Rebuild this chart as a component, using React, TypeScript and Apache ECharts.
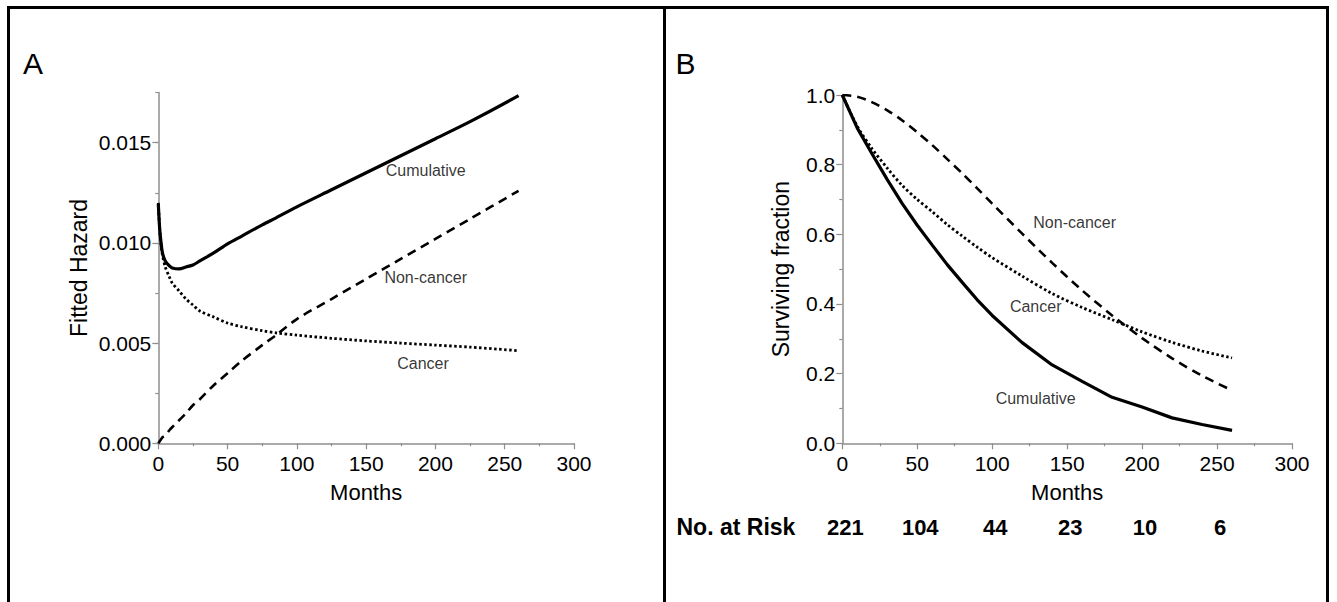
import React, { useEffect, useRef } from 'react';
import * as echarts from 'echarts';

// ---------- Panel A: fitted hazard ----------
const monthsA = [0, 1, 2, 3, 5, 8, 10, 15, 20, 25, 30, 40, 50, 60, 75, 85, 100, 125, 150, 175, 200, 225, 260];
const cumulativeA = [0.01195, 0.0107, 0.0100, 0.0095, 0.0091, 0.00885, 0.00875, 0.0087, 0.0088, 0.0089, 0.0091, 0.0095, 0.00995, 0.01033, 0.0109, 0.01125, 0.0118, 0.01265, 0.0135, 0.01435, 0.0152, 0.01605, 0.01735];
const cancerA = [0.0120, 0.0107, 0.0099, 0.0094, 0.0088, 0.0083, 0.0080, 0.0076, 0.0072, 0.0069, 0.0066, 0.0063, 0.0060, 0.00582, 0.00562, 0.00551, 0.0054, 0.00524, 0.00511, 0.0050, 0.0049, 0.0048, 0.00462];
const nonCancerA = [0, 0.0001, 0.0002, 0.0003, 0.0004, 0.00065, 0.0008, 0.00115, 0.0015, 0.0019, 0.0022, 0.0029, 0.0035, 0.0041, 0.0049, 0.0054, 0.0062, 0.0072, 0.0082, 0.0092, 0.0102, 0.0112, 0.0126];
const hazardMajorTicks = [0, 0.005, 0.01, 0.015];
const curveLabelsA: [number, number, string][] = [
  [193, 0.01362, 'Cumulative'],
  [193, 0.00827, 'Non-cancer'],
  [191, 0.00396, 'Cancer'],
];

// ---------- Panel B: surviving fraction ----------
const monthsB = [0, 10, 20, 30, 40, 50, 60, 70, 80, 90, 100, 120, 140, 160, 180, 200, 220, 240, 260];
const cumulativeB = [1.0, 0.905, 0.83, 0.757, 0.688, 0.626, 0.569, 0.513, 0.462, 0.412, 0.367, 0.289, 0.225, 0.178, 0.132, 0.104, 0.073, 0.054, 0.037];
const cancerB = [1.0, 0.91, 0.845, 0.79, 0.74, 0.70, 0.665, 0.628, 0.595, 0.563, 0.533, 0.48, 0.43, 0.39, 0.355, 0.32, 0.29, 0.265, 0.245];
const nonCancerB = [1.0, 0.995, 0.979, 0.956, 0.927, 0.893, 0.856, 0.816, 0.775, 0.732, 0.688, 0.602, 0.518, 0.439, 0.367, 0.302, 0.244, 0.194, 0.152];
const curveLabelsB: [number, number, string][] = [
  [155, 0.633, 'Non-cancer'],
  [129, 0.394, 'Cancer'],
  [129, 0.13, 'Cumulative'],
];

// ---------- Number at risk ----------
const riskMonths = [0, 50, 100, 150, 200, 250];
const riskCounts = [221, 104, 44, 23, 10, 6];

const SANS = "'Liberation Sans', Arial, Helvetica, sans-serif";
const AXIS_GRAY = '#8e8e8e';

const zip = (xs: number[], ys: number[]) => xs.map((x, i) => [x, ys[i]]);

export default function App() {
  const ref = useRef<HTMLDivElement>(null);

  useEffect(() => {
    const chart = echarts.init(ref.current!, null, { renderer: 'svg' });

    const tickFont = { fontFamily: SANS, fontSize: 21, color: '#000' };

    const xAxisCommon = (gridIndex: number) => ({
      type: 'value',
      gridIndex,
      min: 0,
      max: 300,
      interval: 50,
      name: 'Months',
      nameLocation: 'middle',
      nameGap: 38,
      nameTextStyle: { fontFamily: SANS, fontSize: 22, color: '#000' },
      axisLine: { show: true, onZero: false, lineStyle: { color: AXIS_GRAY, width: 1.5 } },
      axisTick: { show: true, length: 6, lineStyle: { color: AXIS_GRAY, width: 1.2 } },
      minorTick: { show: true, splitNumber: 2, length: 3, lineStyle: { color: AXIS_GRAY, width: 1.2 } },
      splitLine: { show: false },
      minorSplitLine: { show: false },
      axisLabel: { margin: 10, ...tickFont },
    });

    const lineSeries = (
      xi: number,
      yi: number,
      data: number[][],
      kind: 'solid' | 'dashed' | 'dotted',
      smooth: number | boolean,
    ) => ({
      type: 'line',
      xAxisIndex: xi,
      yAxisIndex: yi,
      data,
      showSymbol: false,
      symbol: 'none',
      smooth,
      silent: true,
      lineStyle: {
        color: '#000',
        width: kind === 'solid' ? 3.2 : kind === 'dashed' ? 2.6 : 2.8,
        type: kind === 'solid' ? 'solid' : kind === 'dashed' ? [9, 6] : [2.5, 2.5],
        cap: 'butt',
      },
      z: 3,
    });

    const labelSeries = (xi: number, yi: number, items: [number, number, string][]) => ({
      type: 'scatter',
      xAxisIndex: xi,
      yAxisIndex: yi,
      symbolSize: 0,
      silent: true,
      data: items.map((d) => [d[0], d[1], d[2]]),
      label: {
        show: true,
        position: 'inside',
        formatter: (p: any) => p.data[2],
        fontFamily: SANS,
        fontSize: 16,
        color: '#000',
      },
      z: 4,
    });

    chart.setOption({
      animation: false,
      backgroundColor: '#fff',
      grid: [
        { left: 158.3, top: 92.6, width: 415.7, height: 350.7 },
        { left: 842.3, top: 95, width: 449.7, height: 348.3 },
      ],
      xAxis: [xAxisCommon(0), xAxisCommon(1)],
      yAxis: [
        {
          type: 'value',
          gridIndex: 0,
          position: 'left',
          min: 0,
          max: 0.0175,
          interval: 0.0025,
          name: 'Fitted Hazard',
          nameLocation: 'middle',
          nameGap: 68,
          nameRotate: 90,
          nameTextStyle: { fontFamily: SANS, fontSize: 23, color: '#000' },
          axisLine: { show: true, onZero: false, lineStyle: { color: AXIS_GRAY, width: 1.5 } },
          axisTick: { show: true, length: 3, lineStyle: { color: AXIS_GRAY, width: 1.2 } },
          splitLine: { show: false },
          axisLabel: {
            margin: 7,
            ...tickFont,
            formatter: (v: number) => {
              const k = v / 0.005;
              return Math.abs(k - Math.round(k)) < 1e-6 ? v.toFixed(3) : '';
            },
          },
        },
        {
          type: 'value',
          gridIndex: 0,
          position: 'left',
          min: 0,
          max: 0.0175,
          interval: 0.005,
          axisLine: { show: false },
          axisLabel: { show: false },
          splitLine: { show: false },
          axisTick: { show: true, length: 6, customValues: hazardMajorTicks, lineStyle: { color: AXIS_GRAY, width: 1.2 } },
        },
        {
          type: 'value',
          gridIndex: 1,
          position: 'left',
          min: 0,
          max: 1,
          interval: 0.2,
          name: 'Surviving fraction',
          nameLocation: 'middle',
          nameGap: 50,
          nameRotate: 90,
          nameTextStyle: { fontFamily: SANS, fontSize: 23, color: '#000' },
          axisLine: { show: true, onZero: false, lineStyle: { color: AXIS_GRAY, width: 1.5 } },
          axisTick: { show: true, length: 6, lineStyle: { color: AXIS_GRAY, width: 1.2 } },
          minorTick: { show: true, splitNumber: 2, length: 3, lineStyle: { color: AXIS_GRAY, width: 1.2 } },
          splitLine: { show: false },
          minorSplitLine: { show: false },
          axisLabel: {
            margin: 7,
            ...tickFont,
            formatter: (v: number) => v.toFixed(1),
          },
        },
      ],
      series: [
        lineSeries(0, 0, zip(monthsA, cumulativeA), 'solid', 0.3),
        lineSeries(0, 0, zip(monthsA, nonCancerA), 'dashed', 0.3),
        lineSeries(0, 0, zip(monthsA, cancerA), 'dotted', 0.3),
        labelSeries(0, 0, curveLabelsA),
        lineSeries(1, 2, zip(monthsB, cumulativeB), 'solid', false),
        lineSeries(1, 2, zip(monthsB, nonCancerB), 'dashed', 0.3),
        lineSeries(1, 2, zip(monthsB, cancerB), 'dotted', 0.3),
        labelSeries(1, 2, curveLabelsB),
      ],
    });

    const riskTexts = riskMonths.map((m, i) => {
      const px = chart.convertToPixel({ xAxisIndex: 1 }, m) as number;
      return {
        type: 'text',
        x: px + 3,
        y: 527,
        style: {
          text: String(riskCounts[i]),
          fontFamily: SANS,
          fontWeight: 'bold',
          fontSize: 22,
          fill: '#000',
          align: 'center',
          verticalAlign: 'middle',
        },
      };
    });

    chart.setOption({
      graphic: [
        {
          type: 'rect',
          shape: { x: 8.5, y: 7.5, width: 1319, height: 640 },
          style: { fill: 'none', stroke: '#000', lineWidth: 3 },
          silent: true,
        },
        {
          type: 'line',
          shape: { x1: 664.5, y1: 7.5, x2: 664.5, y2: 610 },
          style: { stroke: '#000', lineWidth: 3 },
          silent: true,
        },
        {
          type: 'text',
          x: 33,
          y: 63,
          style: { text: 'A', fontFamily: SANS, fontSize: 30, fill: '#000', align: 'center', verticalAlign: 'middle' },
        },
        {
          type: 'text',
          x: 685.5,
          y: 63,
          style: { text: 'B', fontFamily: SANS, fontSize: 30, fill: '#000', align: 'center', verticalAlign: 'middle' },
        },
        {
          type: 'text',
          x: 676.5,
          y: 527,
          style: {
            text: 'No. at Risk',
            fontFamily: SANS,
            fontWeight: 'bold',
            fontSize: 23,
            fill: '#000',
            align: 'left',
            verticalAlign: 'middle',
          },
        },
        ...riskTexts,
      ],
    });

    return () => chart.dispose();
  }, []);

  return (
    <div
      ref={ref}
      style={{ position: 'absolute', left: 0, top: 0, width: 1337, height: 602, background: '#fff' }}
    />
  );
}
